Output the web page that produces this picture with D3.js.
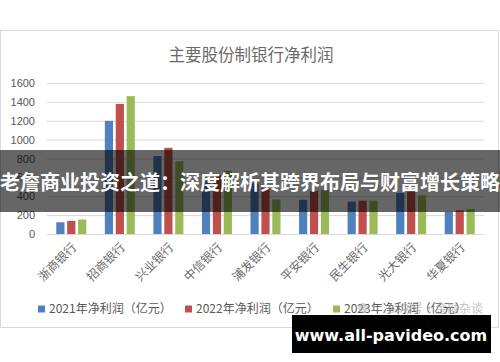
<!DOCTYPE html>
<html>
<head>
<meta charset="utf-8">
<script src="https://cdn.jsdelivr.net/npm/d3@7"></script>
<style>
  body { margin: 0; background: #fff; }
  svg { display: block; }
</style>
</head>
<body>
<script>
// data
var banks = ["浙商银行", "招商银行", "兴业银行", "中信银行", "浦发银行", "平安银行", "民生银行", "光大银行", "华夏银行"];
var seriesNames = ["2021年净利润（亿元）", "2022年净利润（亿元）", "2023年净利润（亿元）"];
var profit2021 = [124, 1199, 826, 556, 537, 363, 343, 434, 236];
var profit2022 = [139, 1378, 913, 621, 512, 455, 353, 448, 251];
var profit2023 = [153, 1461, 771, 670, 367, 465, 353, 410, 264];
var yTicks = [0, 200, 400, 600, 800, 1000, 1200, 1400, 1600];

var colors = ["#4f81bd", "#c0504d", "#9bbb59"];
var cjk = "'Noto Sans CJK SC', 'Noto Sans', sans-serif";

var width = 500, height = 362;

var svg = d3.select("body").append("svg")
	.attr("width", width)
	.attr("height", height);

// chart frame
svg.append("rect")
	.attr("x", 0.5).attr("y", 30.5)
	.attr("width", 498).attr("height", 297)
	.attr("fill", "#fff")
	.attr("stroke", "#d9d9d9");

svg.append("text")
	.attr("x", 251).attr("y", 61)
	.attr("text-anchor", "middle")
	.attr("font-family", cjk)
	.attr("font-size", "16.5px")
	.attr("fill", "#6b6b6b")
	.text("主要股份制银行净利润");

var rows = banks.map(function (b, i) {
	return { bank: b, values: [profit2021[i], profit2022[i], profit2023[i]] };
});

var x = d3.scaleBand().domain(banks).range([47, 484]);
var xs = d3.scaleBand().domain([0, 1, 2]).range([0, 30]).paddingInner(0.25);
var y = d3.scaleLinear().domain([0, 1600]).range([234, 83]);

// gridlines + y labels
var yAxis = svg.append("g")
	.attr("transform", "translate(47,0)")
	.call(d3.axisLeft(y).tickValues(yTicks).tickFormat(d3.format("d")).tickSize(-437).tickPadding(12));
yAxis.select(".domain").remove();
yAxis.selectAll(".tick line").attr("stroke", "#d9d9d9");
yAxis.selectAll(".tick text")
	.attr("fill", "#595959")
	.attr("font-family", "'Liberation Sans', Arial, sans-serif")
	.attr("font-size", "11px");

// bars
var groups = svg.append("g").selectAll("g")
	.data(rows)
	.enter().append("g")
	.attr("transform", function (d) {
		return "translate(" + (x(d.bank) + x.bandwidth() / 2 - 15) + ",0)";
	});

groups.selectAll("rect")
	.data(function (d) { return d.values; })
	.enter().append("rect")
	.attr("x", function (d, i) { return xs(i); })
	.attr("y", function (d) { return y(d); })
	.attr("width", xs.bandwidth())
	.attr("height", function (d) { return y(0) - y(d); })
	.attr("fill", function (d, i) { return colors[i]; });

// category labels, rotated
svg.append("g").selectAll("text")
	.data(banks)
	.enter().append("text")
	.attr("transform", function (d) {
		return "translate(" + (x(d) + x.bandwidth() / 2 + 3) + ",245) rotate(-45)";
	})
	.attr("text-anchor", "end")
	.attr("dy", "0.35em")
	.attr("font-family", cjk)
	.attr("font-size", "12px")
	.attr("fill", "#6b6b6b")
	.text(function (d) { return d; });

// legend
var legendX = [38, 185, 333];
var legend = svg.append("g").selectAll("g")
	.data(seriesNames)
	.enter().append("g")
	.attr("transform", function (d, i) { return "translate(" + legendX[i] + ",309)"; });
legend.append("rect")
	.attr("x", 0).attr("y", -3.5)
	.attr("width", 7).attr("height", 7)
	.attr("fill", function (d, i) { return colors[i]; });
legend.append("text")
	.attr("x", 11).attr("dy", "0.35em")
	.attr("font-family", cjk)
	.attr("font-size", "12px")
	.attr("fill", "#595959")
	.text(function (d) { return d; });

// faint account watermark over the legend
svg.append("circle")
	.attr("cx", 363).attr("cy", 308).attr("r", 5)
	.attr("fill", "#aaa").attr("opacity", 0.5);
svg.append("text")
	.attr("x", 483).attr("y", 309)
	.attr("dy", "0.35em")
	.attr("text-anchor", "end")
	.attr("font-family", cjk)
	.attr("font-size", "12px")
	.attr("fill", "#999")
	.attr("opacity", 0.6)
	.text("公众号·金融杂谈");

// dark banner across the middle
svg.append("rect")
	.attr("x", 0).attr("y", 150)
	.attr("width", width).attr("height", 62)
	.attr("fill", "#000")
	.attr("opacity", 0.6);
svg.append("text")
	.attr("x", 250).attr("y", 183)
	.attr("dy", "0.35em")
	.attr("text-anchor", "middle")
	.attr("font-family", cjk)
	.attr("font-weight", "bold")
	.attr("font-size", "20px")
	.attr("fill", "#fff")
	.text("老詹商业投资之道：深度解析其跨界布局与财富增长策略");

// site badge bottom right
svg.append("rect")
	.attr("x", 292).attr("y", 315)
	.attr("width", 199).attr("height", 38)
	.attr("fill", "#000");
svg.append("text")
	.attr("x", 391).attr("y", 335)
	.attr("dy", "0.35em")
	.attr("text-anchor", "middle")
	.attr("font-family", "'DejaVu Sans', sans-serif")
	.attr("font-weight", "bold")
	.attr("font-size", "16px")
	.attr("fill", "#fff")
	.text("www.all-pavideo.com");
</script>
</body>
</html>
